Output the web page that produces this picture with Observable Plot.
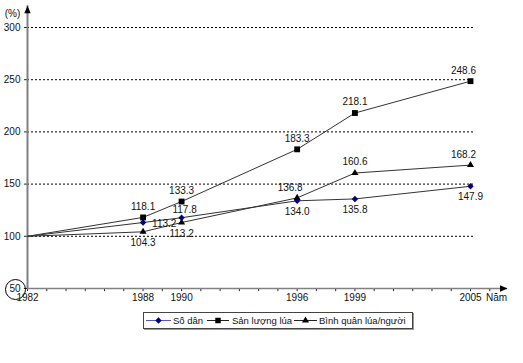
<!DOCTYPE html>
<html>
<head>
<meta charset="utf-8">
<script src="https://cdn.jsdelivr.net/npm/d3@7"></script>
<script src="https://cdn.jsdelivr.net/npm/@observablehq/plot@0.6"></script>
<style>
  html, body { margin: 0; padding: 0; background: #fff; }
  body { width: 523px; height: 363px; overflow: hidden; font-family: "Liberation Sans", Arial, sans-serif; }
  #legend {
    position: absolute; left: 143px; top: 312px; width: 268px; height: 15px;
    border: 1px solid #444; box-shadow: 1px 1px 0 #999;
  }
  #legend svg { display: block; }
</style>
</head>
<body>
<div id="chart"></div>
<div id="legend"></div>
<script>
// ---- data ----
const years = [1982, 1988, 1990, 1996, 1999, 2005];
const soDan = [100, 113.2, 117.8, 134.0, 135.8, 147.9];
const sanLuong = [100, 118.1, 133.3, 183.3, 218.1, 248.6];
const binhQuan = [100, 104.3, 113.2, 136.8, 160.6, 168.2];
const seriesNames = ["Số dân", "Sản lượng lúa", "Bình quân lúa/người"];
// label placement (categorical)
const soDanLabelPlace = [null, "right", "above-right", "below", "below", "below"];
const sanLuongLabelPlace = [null, "above", "above", "above", "above", "above-left"];
const binhQuanLabelPlace = [null, "below", "below", "above-left", "above", "above-left"];
const yTickValues = [50, 100, 150, 200, 250, 300];
const gridValues = [100, 150, 200, 250, 300];
const xTickLabels = [1982, 1988, 1990, 1996, 1999, 2005];
const yearTicks = d3.range(1982, 2007);
const yTitle = "(%)";
const xTitle = "Năm";

// ---- build tables ----
const seriesValues = [soDan, sanLuong, binhQuan];
const seriesPlaces = [soDanLabelPlace, sanLuongLabelPlace, binhQuanLabelPlace];
const rows = [];
seriesValues.forEach((vals, s) => vals.forEach((v, i) =>
  rows.push({series: seriesNames[s], year: years[i], value: v, place: seriesPlaces[s][i]})));

const xStart = 1982, xEnd = 2006.92, yStart = 50, yEnd = 320.8, gridEnd = 2005.26;

const placeStyle = {
  "above": {dx: 0, dy: -11, textAnchor: "middle"},
  "above-left": {dx: -7, dy: -10, textAnchor: "middle"},
  "above-right": {dx: 3, dy: -8, textAnchor: "middle"},
  "below": {dx: 0, dy: 11, textAnchor: "middle"},
  "right": {dx: 9, dy: 1, textAnchor: "start"}
};

const symbolOf = {"Số dân": "diamond2", "Sản lượng lúa": "square", "Bình quân lúa/người": "triangle"};
const fillOf = {"Số dân": "#000080", "Sản lượng lúa": "#000", "Bình quân lúa/người": "#000"};
const rOf = {"Số dân": 2.9, "Sản lượng lúa": 3.3, "Bình quân lúa/người": 2.6};

// custom arrow head symbol (tip at origin, pointing up)
const arrowHead = {
  draw(ctx, size) {
    ctx.moveTo(0, 0); ctx.lineTo(3.2, 7.5); ctx.lineTo(-3.2, 7.5); ctx.closePath();
  }
};

const labelMarks = Object.entries(placeStyle).map(([p, st]) =>
  Plot.text(rows.filter(d => d.place === p), {
    x: "year", y: "value", text: d => d.value.toFixed(1),
    dx: st.dx, dy: st.dy, textAnchor: st.textAnchor, fill: "#111", fontSize: 10
  }));

const chart = Plot.plot({
  width: 523,
  height: 305,
  marginLeft: 27,
  marginRight: 53,
  marginTop: 27,
  marginBottom: 17,
  style: {fontFamily: "'Liberation Sans', Arial, sans-serif", fontSize: "10px", background: "#fff", overflow: "visible"},
  x: {domain: [1982, 2005], range: [27, 470], axis: null},
  y: {domain: [50, 300], range: [288, 27], axis: null},
  marks: [
    // gridlines
    Plot.ruleY(gridValues, {x1: xStart, x2: gridEnd, stroke: "#000", strokeWidth: 1, strokeDasharray: "2,2"}),
    // year ticks
    Plot.ruleX(yearTicks, {x: d => d, y1: yStart, y2: 47, stroke: "#222", strokeWidth: 1}),
    // y ticks to the left of the axis
    Plot.ruleY(yTickValues, {x1: 1981.84, x2: xStart, stroke: "#222", strokeWidth: 1}),
    // axes
    Plot.ruleX([xStart], {y1: yStart, y2: yEnd, stroke: "#808080", strokeWidth: 2}),
    Plot.ruleY([yStart], {x1: xStart, x2: xEnd, stroke: "#808080", strokeWidth: 1.5}),
    Plot.dot([0], {x: () => xStart, y: () => yEnd, symbol: arrowHead, fill: "#000", r: 4}),
    Plot.dot([0], {x: () => xEnd, y: () => yStart, symbol: arrowHead, fill: "#000", r: 4, rotate: 90}),
    // y tick labels
    Plot.text(yTickValues, {x: xStart, y: d => d, text: d => String(d), textAnchor: "end", dx: -7, fill: "#111", fontSize: 10}),
    Plot.dot([50], {x: xStart, y: d => d, dx: -12, dy: 1, r: 10, stroke: "#000", strokeWidth: 1, fill: "none"}),
    // x tick labels
    Plot.text(xTickLabels, {x: d => d, y: yStart, text: d => String(d), dy: 9, fill: "#111", fontSize: 10}),
    // axis titles
    Plot.text([yTitle], {x: xStart, y: yEnd, text: d => d, dx: -15, dy: 8, fill: "#111", fontSize: 10}),
    Plot.text([xTitle], {x: 2005, y: yStart, text: d => d, dx: 26, dy: 9, fill: "#111", fontSize: 10}),
    // series lines
    Plot.line(rows, {x: "year", y: "value", z: "series", stroke: "#333", strokeWidth: 1}),
    // markers (not at the 1982 base point)
    ...seriesNames.map(s => Plot.dot(rows.filter(d => d.series === s && d.place !== null), {
      x: "year", y: "value", symbol: symbolOf[s], fill: fillOf[s], r: rOf[s], stroke: "none"
    })),
    // value labels
    ...labelMarks
  ]
});
document.getElementById("chart").append(chart);

// ---- legend ----
const legendItems = [
  {name: seriesNames[0], line: "#5555bb", sym: d3.symbolDiamond2, size: 26, fill: "#000080", x0: 2, x1: 27, tx: 29},
  {name: seriesNames[1], line: "#222", sym: d3.symbolSquare, size: 30, fill: "#000", x0: 63, x1: 85, tx: 88},
  {name: seriesNames[2], line: "#222", sym: d3.symbolTriangle, size: 22, fill: "#000", x0: 150, x1: 173, tx: 175}
];
const lsvg = d3.create("svg").attr("width", 268).attr("height", 15)
  .style("font-family", "'Liberation Sans', Arial, sans-serif").style("font-size", "9.5px");
legendItems.forEach(it => {
  lsvg.append("line").attr("x1", it.x0).attr("x2", it.x1).attr("y1", 7.5).attr("y2", 7.5)
    .attr("stroke", it.line).attr("stroke-width", 1);
  lsvg.append("path").attr("d", d3.symbol(it.sym, it.size)())
    .attr("transform", `translate(${(it.x0 + it.x1) / 2},7.5)`).attr("fill", it.fill);
  lsvg.append("text").attr("x", it.tx).attr("y", 7.5).attr("dy", "0.35em").attr("fill", "#111").text(it.name);
});
document.getElementById("legend").append(lsvg.node());
</script>
</body>
</html>
